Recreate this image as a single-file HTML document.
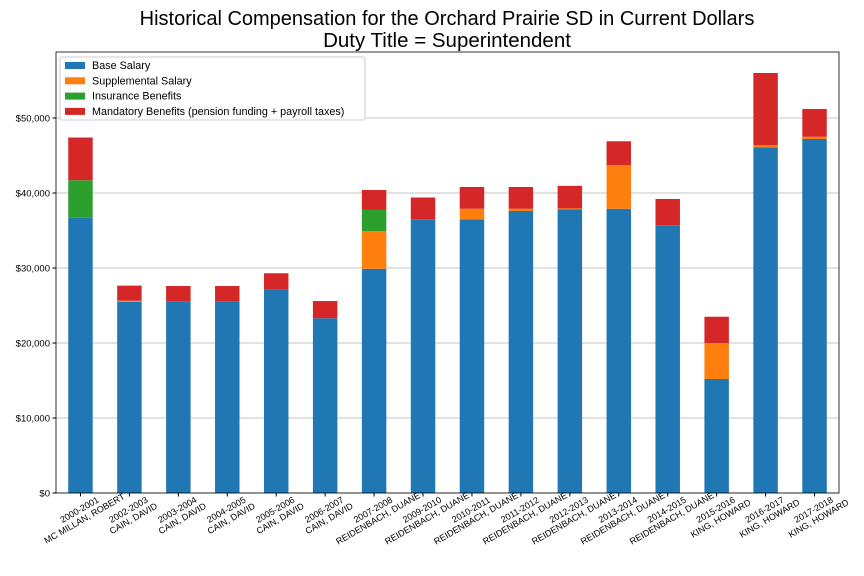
<!DOCTYPE html>
<html><head><meta charset="utf-8"><style>
body{margin:0;background:#fff;}
svg{display:block;font-family:"Liberation Sans","DejaVu Sans",sans-serif;}
</style></head><body>
<svg id="chart" width="864" height="576">
<text x="447" y="25" text-anchor="middle" font-size="20">Historical Compensation for the Orchard Prairie SD in Current Dollars</text>
<text x="447" y="47" text-anchor="middle" font-size="20.5">Duty Title = Superintendent</text>
<g id="grid"></g><g id="bars"></g><g id="axes"></g><g id="legend"></g>
</svg>
<script>
const categories=["2000-2001|MC MILLAN, ROBERT","2002-2003|CAIN, DAVID","2003-2004|CAIN, DAVID","2004-2005|CAIN, DAVID","2005-2006|CAIN, DAVID","2006-2007|CAIN, DAVID","2007-2008|REIDENBACH, DUANE","2009-2010|REIDENBACH, DUANE","2010-2011|REIDENBACH, DUANE","2011-2012|REIDENBACH, DUANE","2012-2013|REIDENBACH, DUANE","2013-2014|REIDENBACH, DUANE","2014-2015|REIDENBACH, DUANE","2015-2016|KING, HOWARD","2016-2017|KING, HOWARD","2017-2018|KING, HOWARD"];
const baseSalary=[36700,25500,25500,25500,27100,23300,29900,36500,36500,37600,37800,37900,35700,15200,46100,47200];
const supplemental=[0,150,0,0,0,0,5000,0,1400,300,150,5800,0,4800,300,300];
const insurance=[5000,0,0,0,0,0,2900,0,0,0,0,0,0,0,0,0];
const mandatory=[5700,2000,2100,2100,2200,2300,2600,2900,2900,2900,3000,3200,3500,3500,9600,3700];
const yTicks=[0,10000,20000,30000,40000,50000];
const seriesNames=["Base Salary","Supplemental Salary","Insurance Benefits","Mandatory Benefits (pension funding + payroll taxes)"];
const colors=["#1f77b4","#ff7f0e","#2ca02c","#d62728"];
const NS="http://www.w3.org/2000/svg";
const L=56,R=839,T=52,B=493;
const y=v=>B-v*(B-T)/58800;
const slot=(R-L)/categories.length;
const x=i=>L+slot*(i+0.5);
function mk(t,a,p){const e=document.createElementNS(NS,t);for(const k in a)e.setAttribute(k,a[k]);p.appendChild(e);return e;}
const grid=document.getElementById('grid'),bars=document.getElementById('bars'),axes=document.getElementById('axes'),leg=document.getElementById('legend');
mk('rect',{x:L,y:T,width:R-L,height:B-T,fill:'#fff',stroke:'none'},grid);
yTicks.forEach(v=>{
 const g=mk('line',{x1:L,x2:R,y1:y(v),y2:y(v),stroke:'#b0b0b0','stroke-width':0.8},grid);
 
 
 mk('line',{x1:L-3.5,x2:L,y1:y(v),y2:y(v),stroke:'#000'},axes);
 const t=mk('text',{x:L-6,y:y(v)+3.5,'text-anchor':'end','font-size':9.5},axes);
 t.textContent='$'+v.toLocaleString('en-US');
 
 
});
const series=[baseSalary,supplemental,insurance,mandatory];
const bw=slot*0.5;
categories.forEach((c,i)=>{
 let acc=0;
 series.forEach((s,k)=>{
  const v=s[i]; if(v<=0)return;
  const r=mk('rect',{x:x(i)-bw/2,y:y(acc+v),width:bw,height:y(acc)-y(acc+v),fill:colors[k]},bars);
  
  
  acc+=v;
 });
 mk('line',{x1:x(i),x2:x(i),y1:B,y2:B+3.5,stroke:'#000'},axes);
 const parts=c.split('|');
 const g=mk('g',{transform:`translate(${x(i)+2},${B+22}) rotate(-30)`},axes);
 
 
 const t1=mk('text',{x:0,y:-3,'text-anchor':'middle','font-size':9},g);t1.textContent=parts[0];
 const t2=mk('text',{x:0,y:7,'text-anchor':'middle','font-size':9},g);t2.textContent=parts[1];
});
mk('rect',{x:L,y:T,width:R-L,height:B-T,fill:'none',stroke:'#000','stroke-width':0.8},axes);
const lb=mk('rect',{x:60,y:57,width:305,height:63,fill:'#fff',stroke:'#ccc',rx:2},leg);


seriesNames.forEach((n,k)=>{
 const yy=65+k*15.3;
 mk('rect',{x:65,y:yy-3,width:20,height:7,fill:colors[k]},leg);
 const t=mk('text',{x:92,y:yy+4,'font-size':10.8},leg);t.textContent=n;
 
 
});
</script>
</body></html>
